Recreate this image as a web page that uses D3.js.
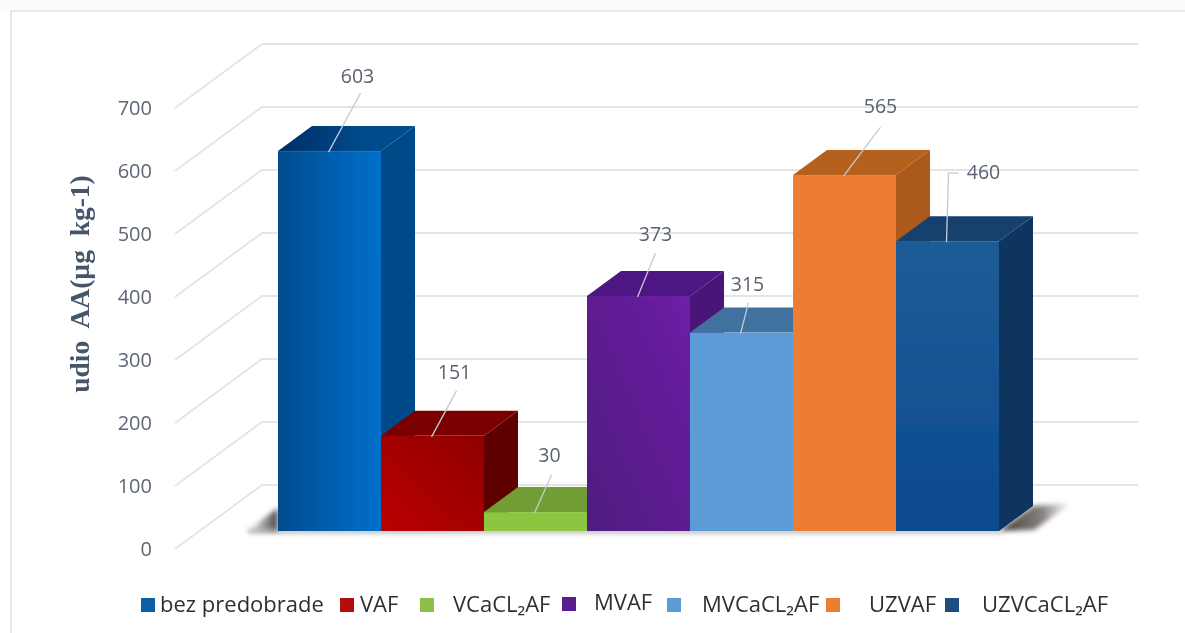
<!DOCTYPE html>
<html><head><meta charset="utf-8">
<script src="https://cdn.jsdelivr.net/npm/d3@7"></script>
<style>html,body{margin:0;padding:0;background:#fff;overflow:hidden}svg{display:block}</style>
</head><body><svg id="c" width="1185" height="633"></svg>
<script>
const categories = ["bez predobrade","VAF","VCaCL₂AF","MVAF","MVCaCL₂AF","UZVAF","UZVCaCL₂AF"];
const values = [603,151,30,373,315,565,460];
const ticks = [0,100,200,300,400,500,600,700];
const axisTitle = "udio  AA(µg  kg-1)";

// styling and layout, by bar
const frontTop = ["#0070cc","#8f0000","#8cc63f","#6c20a4","#5b9bd5","#ed7d31","#1f5c96"];
const frontLow = ["#004c8e","#bb0000","#8cc63f","#4f1a80","#5b9bd5","#ed7d31","#0a4a8e"];
const topFace  = ["#00437f","#7a0000","#6f9e34","#4e1882","#41719f","#b5601f","#183f6d"];
const sideFace = ["#004a88","#5e0000","#6f9e34","#4a1478","#41719f","#ac5a1b","#0e3560"];
const labelDx = [28,22,14,17,6,36,36];
const labelDy = [-69,-58,-51,-56,-43,-63,-63];
const leaderDx = [31,24,16,17,7,36,0];
const leaderDy = [-59,-46,-38,-44,-31,-49,-69];
const legendSwatchX = [141,340,420,562,667,826,945];
const legendTextX = [160,360,453,594,702,869,982];
const legendColors = ["#0a5ea8","#b40a0a","#8cc04a","#5a1a8e","#5b9bd5","#ed7d31","#1a4f80"];

const svg = d3.select("#c");
const defs = svg.append("defs");
const soft = defs.append("filter").attr("id","soft").attr("filterUnits","userSpaceOnUse")
  .attr("x",0).attr("y",0).attr("width",1185).attr("height",633);
soft.append("feGaussianBlur").attr("stdDeviation",0.7);
const sh = defs.append("filter").attr("id","sh").attr("filterUnits","userSpaceOnUse")
  .attr("x",200).attr("y",470).attr("width",900).attr("height",90);
sh.append("feGaussianBlur").attr("stdDeviation",2.5);

function grad(id, stops){
  const g = defs.append("linearGradient").attr("id",id);
  stops.forEach(s=>g.append("stop").attr("offset",s[0]).attr("stop-color",s[1]).attr("stop-opacity",s[2]));
}
grad("shL",[["0%","#555",0],["100%","#444",1]]);
grad("shR",[["0%","#3c3530",1],["60%","#6a6460",.8],["100%","#888",0]]);
grad("topBlue",[["0%","#002f66",1],["60%","#00498a",1],["100%","#00508f",1]]);

const wallY = d3.scaleLinear().domain([0,700]).range([549,108]);
const barBase = 531, depthX = 34, depthY = 25;
const barH = v => wallY(0) - wallY(v);
const x = d3.scaleBand().domain(categories).range([278,999]).padding(0);
const line = d3.line();

const root = svg.append("g").attr("filter","url(#soft)");
root.append("rect").attr("width",1185).attr("height",11).attr("fill","#fcfcfc");
root.append("path").attr("d",line([[1185,11],[11,11],[11,633]])).attr("fill","none").attr("stroke","#e2e2e2").attr("stroke-width",1.6);

// gridlines
root.append("g").selectAll("path").data(ticks).join("path")
  .attr("d",d=>line([[175,wallY(d)],[262,wallY(d)-64],[1138,wallY(d)-64]]))
  .attr("fill","none").attr("stroke","#e4e4e4").attr("stroke-width",1.8);

// tick labels
root.append("g").selectAll("text").data(ticks).join("text")
  .attr("x",152).attr("y",d=>wallY(d)+7).attr("text-anchor","end")
  .attr("font-family","Open Sans").attr("font-size",20).attr("fill","#5d6675").text(d=>d);

// axis title
root.append("text").attr("transform","translate(89,284) rotate(-90)").attr("text-anchor","middle")
  .attr("font-family","Liberation Serif").attr("font-weight","bold").attr("font-size",27.5)
  .attr("fill","#44546a").style("white-space","pre").text(axisTitle);

// floor shadow
root.append("path").attr("d",line([[247,531],[278,508],[278,531]])).attr("fill","url(#shL)").attr("filter","url(#sh)");
root.append("path").attr("d",line([[999,531],[1033,506],[1072,503],[1034,530]])).attr("fill","url(#shR)").attr("filter","url(#sh)");
root.append("rect").attr("x",248).attr("y",530).attr("width",752).attr("height",2.5).attr("fill","#888").attr("filter","url(#sh)");

// gradients
categories.forEach((c,i)=>{
  const diag = i===1||i===3;
  const g = defs.append("linearGradient").attr("id","g"+i)
    .attr("x1",0).attr("y1",i===6?0:(diag?1:0)).attr("x2",i===6?0:1).attr("y2",i===6?1:0);
  g.append("stop").attr("offset","0%").attr("stop-color",i===6?frontTop[i]:frontLow[i]);
  g.append("stop").attr("offset","100%").attr("stop-color",i===6?frontLow[i]:frontTop[i]);
});

// bars
const rows = categories.map((c,i)=>({c,i,v:values[i]}));
const bars = root.append("g").selectAll("g").data(rows).join("g");
const w = x.bandwidth();
bars.append("path").attr("fill",d=>sideFace[d.i]).attr("d",d=>{
  const X=x(d.c)+w,T=barBase-barH(d.v);
  return line([[X,T],[X+depthX,T-depthY],[X+depthX,barBase-depthY],[X,barBase]])+"Z";});
bars.append("path").attr("fill",d=>d.i===0?"url(#topBlue)":topFace[d.i]).attr("d",d=>{
  const X=x(d.c),T=barBase-barH(d.v);
  return line([[X,T],[X+depthX,T-depthY],[X+w+depthX,T-depthY],[X+w,T]])+"Z";});
bars.append("rect").attr("x",d=>x(d.c)).attr("width",w)
  .attr("y",d=>barBase-barH(d.v)).attr("height",d=>barH(d.v)).attr("fill",d=>`url(#g${d.i})`);

// leaders + data labels
const anchor = d => [x(d.c)+w/2, barBase-barH(d.v)+1];
bars.append("path").attr("fill","none").attr("stroke","#c4cbd6").attr("stroke-width",1.3).attr("d",d=>{
  const [a,b]=anchor(d);
  if(d.i===6) return line([[a-1,b],[a+1,b+leaderDy[d.i]],[a+11,b+leaderDy[d.i]]]);
  return line([[a-1,b],[a+leaderDx[d.i],b+leaderDy[d.i]]]);});
bars.append("text").attr("text-anchor","middle").attr("font-family","Open Sans").attr("font-size",19.5).attr("fill","#5a6372")
  .attr("x",d=>anchor(d)[0]+labelDx[d.i]).attr("y",d=>anchor(d)[1]+labelDy[d.i])
  .text(d=>d.v);

// legend
const leg = root.append("g").selectAll("g").data(rows).join("g");
leg.append("rect").attr("x",d=>legendSwatchX[d.i]).attr("y",d=>d.i===3?597:598).attr("width",14).attr("height",14)
  .attr("fill",d=>legendColors[d.i]);
leg.append("text").attr("x",d=>legendTextX[d.i]).attr("y",d=>d.i===3?610:612)
  .attr("font-family","Open Sans").attr("font-size",22).attr("fill","#2f2f35").text(d=>d.c);
</script></body></html>
